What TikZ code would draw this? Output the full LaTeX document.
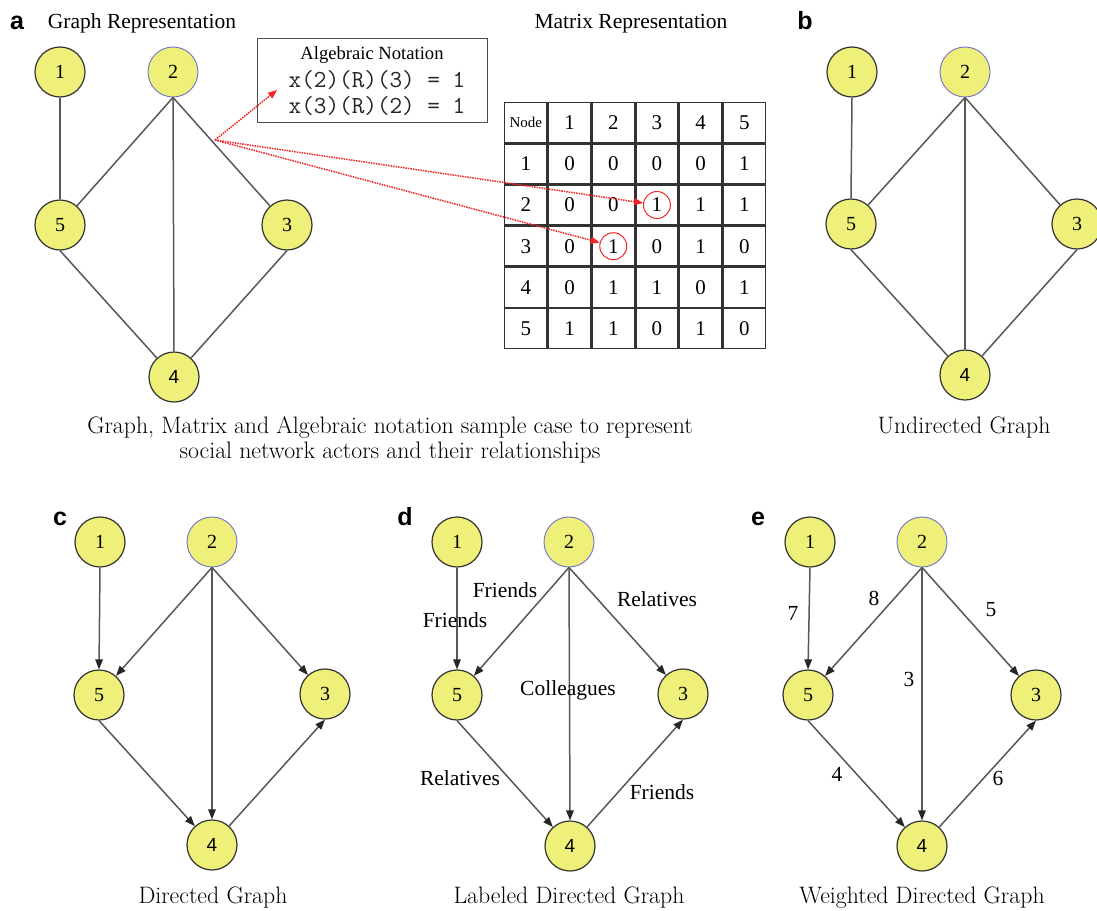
\documentclass[tikz,border=0pt]{standalone}
\usepackage{fontspec}
\newfontfamily\tms{Liberation Serif}
\newfontfamily\hlv{Liberation Sans}
\usetikzlibrary{arrows.meta,matrix}

\definecolor{nodefill}{RGB}{238,240,122}
\definecolor{edgegray}{RGB}{88,88,88}
\definecolor{ringblue}{RGB}{112,112,205}
\definecolor{notered}{RGB}{238,40,40}

\tikzset{
  vtx/.style={circle, draw=black!80, line width=1.2pt, fill=nodefill,
    minimum size=50, inner sep=0pt, font=\tms\fontsize{20}{24}\selectfont},
  vtxb/.style={vtx, draw=ringblue, line width=0.9pt},
  vtxs/.style={vtx, font=\hlv\fontsize{19}{22}\selectfont},
  link/.style={draw=edgegray, line width=1.5pt},
  arc/.style={link, -{Triangle[length=10pt,width=7.5pt,color=black!85]}},
  panel/.style={font=\hlv\bfseries\fontsize{25}{28}\selectfont, anchor=base, inner sep=0pt},
  heading/.style={font=\tms\fontsize{21.5}{25}\selectfont, anchor=base, inner sep=0pt},
  caption/.style={font=\fontsize{23.8}{27}\selectfont, anchor=base, inner sep=0pt},
  lab/.style={font=\tms\fontsize{21.5}{25}\selectfont, inner sep=0pt,
    text height=0.68em, text depth=0pt},
  cell/.style={draw=black!80, line width=1.4pt, minimum width=42.3, minimum height=39.8,
    inner sep=0pt, outer sep=0pt, anchor=center, font=\tms\fontsize{21}{24}\selectfont},
  ring/.style={circle, draw=notered, line width=1pt, minimum size=27, inner sep=0pt},
  pointer/.style={draw=notered, line width=1.5pt, densely dotted,
    -{Triangle[length=9pt,width=7pt]}},
  algline/.style={font=\ttfamily\fontsize{24.5}{28}\selectfont, text=black!85, inner sep=0pt},
}

\begin{document}
\begin{tikzpicture}[x=1pt, y=-1pt]
\useasboundingbox[fill=white] (0,0) rectangle (1097,910);

% ---------- a: graph, matrix and algebraic notation ----------
\node[panel] (la) at (17,29) {a};
\node[heading] (ha) at (142,28) {Graph Representation};
\node[heading] (hm) at (631,28) {Matrix Representation};

\node[vtx]  (a1) at (60,72)   {1};
\node[vtxb] (a2) at (173,72)  {2};
\node[vtx]  (a5) at (60,225)  {5};
\node[vtx]  (a3) at (287,225) {3};
\node[vtxs] (a4) at (174,377) {4};
\draw[link] (a1.south) -- (a5.north);
\draw[link] (a2.south) -- (a5);
\draw[link] (a2.south) -- (a4.north);
\draw[link] (a2.south) -- (a3);
\draw[link] (a5.south) -- (a4);
\draw[link] (a3.south) -- (a4);

% algebraic notation box
\node[draw=black!70, line width=1.1pt, minimum width=230, minimum height=84,
  inner sep=0pt, anchor=north west] (box) at (257,38) {};
\node[font=\tms\fontsize{18.6}{22}\selectfont, inner sep=0pt] (algt) at (372,55) {Algebraic Notation};
\node[algline] (alg1) at (377,80) {x(2)(R)(3) = 1};
\node[algline] (alg2) at (377,106) {x(3)(R)(2) = 1};

% adjacency matrix
\matrix (M) [matrix of nodes, anchor=north west, inner sep=0pt, outer sep=0pt,
  column sep=0pt, row sep=0pt, nodes={cell}] at (504,102) {
  |[font=\tms\fontsize{15}{18}\selectfont]| Node & 1 & 2 & 3 & 4 & 5 \\
  1 & 0 & 0 & 0 & 0 & 1 \\
  2 & 0 & 0 & 1 & 1 & 1 \\
  3 & 0 & 1 & 0 & 1 & 0 \\
  4 & 0 & 1 & 1 & 0 & 1 \\
  5 & 1 & 1 & 0 & 1 & 0 \\
};
\node[ring] (r23) at (M-3-4) {};
\node[ring] (r32) at (M-4-3) {};

% pointers from the edge 2--3
\coordinate (src) at (215,140);
\coordinate (algtip) at (277,90);
\draw[pointer] (src) -- (algtip);
\draw[pointer] (src) -- (r23);
\draw[pointer] (src) -- (r32);

\node[caption] (capa1) at (390,433) {Graph, Matrix and Algebraic notation sample case to represent};
\node[caption] (capa2) at (390,458) {social network actors and their relationships};

% ---------- b: undirected graph ----------
\node[panel] (lb) at (805,29) {b};
\node[vtx]  (b1) at (852,72)   {1};
\node[vtxb] (b2) at (965,72)   {2};
\node[vtx]  (b5) at (851,224)  {5};
\node[vtx]  (b3) at (1077,224) {3};
\node[vtxs] (b4) at (965,375)  {4};
\draw[link] (b1.south) -- (b5.north);
\draw[link] (b2.south) -- (b5);
\draw[link] (b2.south) -- (b4.north);
\draw[link] (b2.south) -- (b3);
\draw[link] (b5.south) -- (b4);
\draw[link] (b3.south) -- (b4);
\node[caption] (capb) at (964,433) {Undirected Graph};

% ---------- c: directed graph ----------
\node[panel] (lc) at (60,525) {c};
\node[vtx]  (c1) at (100,542) {1};
\node[vtxb] (c2) at (212,542) {2};
\node[vtx]  (c5) at (99,695)  {5};
\node[vtx]  (c3) at (325,694) {3};
\node[vtxs] (c4) at (212,845) {4};
\draw[arc] (c1.south) -- (c5.north);
\draw[arc] (c2.south) -- (c5);
\draw[arc] (c2.south) -- (c4.north);
\draw[arc] (c2.south) -- (c3);
\draw[arc] (c5.south) -- (c4);
\draw[arc] (c4) -- (c3.south);
\node[caption] (capc) at (213,903) {Directed Graph};

% ---------- d: labeled directed graph ----------
\node[panel] (ld) at (405,525) {d};
\node[vtx]  (d1) at (457,542) {1};
\node[vtxb] (d2) at (569,542) {2};
\node[vtx]  (d5) at (457,695) {5};
\node[vtx]  (d3) at (683,694) {3};
\node[vtxs] (d4) at (570,846) {4};
\draw[arc] (d1.south) -- (d5.north);
\draw[arc] (d2.south) -- (d5);
\draw[arc] (d2.south) -- (d4.north);
\draw[arc] (d2.south) -- (d3);
\draw[arc] (d5.south) -- (d4);
\draw[arc] (d4) -- (d3.south);
\node[lab] (d15) at (455,624) {Friends};
\node[lab] (d25) at (505,594) {Friends};
\node[lab] (d23) at (657,603) {Relatives};
\node[lab] (d24) at (568,692) {Colleagues};
\node[lab] (d54) at (460,782) {Relatives};
\node[lab] (d43) at (662,796) {Friends};
\node[caption] (capd) at (569,903) {Labeled Directed Graph};

% ---------- e: weighted directed graph ----------
\node[panel] (le) at (758,525) {e};
\node[vtx]  (e1) at (810,542)  {1};
\node[vtxb] (e2) at (922,542)  {2};
\node[vtx]  (e5) at (808,695)  {5};
\node[vtx]  (e3) at (1036,695) {3};
\node[vtxs] (e4) at (922,846)  {4};
\draw[arc] (e1.south) -- (e5.north);
\draw[arc] (e2.south) -- (e5);
\draw[arc] (e2.south) -- (e4.north);
\draw[arc] (e2.south) -- (e3);
\draw[arc] (e5.south) -- (e4);
\draw[arc] (e4) -- (e3.south);
\node[lab] (e15) at (793,617) {7};
\node[lab] (e25) at (874,602) {8};
\node[lab] (e23) at (991,613) {5};
\node[lab] (e24) at (909,683) {3};
\node[lab] (e54) at (837,778) {4};
\node[lab] (e43) at (998,782) {6};
\node[caption] (cape) at (922,903) {Weighted Directed Graph};
\end{tikzpicture}
\end{document}
